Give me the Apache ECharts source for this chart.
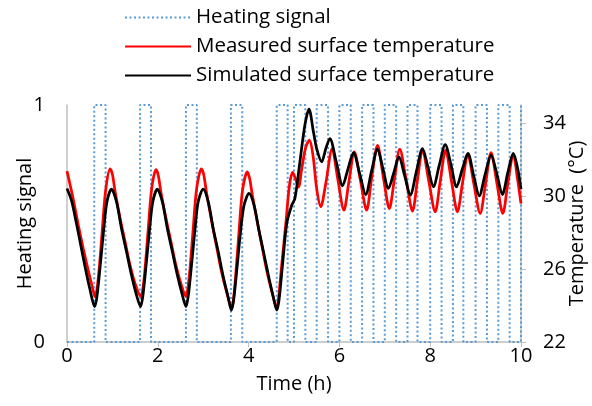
<!DOCTYPE html>
<html><head><meta charset="utf-8">
<script src="https://cdn.jsdelivr.net/npm/echarts@6/dist/echarts.min.js"></script>
<style>html,body{margin:0;padding:0;background:#fff}#c{width:592px;height:406px}</style>
</head><body><div id="c"></div>
<script>
// Time (h) tick labels
const xTicks = [0, 2, 4, 6, 8, 10];
const leftTicks = [0, 1];
const rightTicks = [22, 26, 30, 34];
const seriesNames = ['Heating signal', 'Measured surface temperature', 'Simulated surface temperature'];

// Heating signal: times (h) where the heater switches on and off
const heatOn  = [0.60, 1.61, 2.62, 3.61, 4.62, 5.00, 5.50, 6.00, 6.50, 7.00, 7.50, 8.00, 8.50, 9.00, 9.50, 10.00];
const heatOff = [0.85, 1.85, 2.86, 3.86, 4.86, 5.25, 5.75, 6.25, 6.75, 7.25, 7.72, 8.25, 8.73, 9.25, 9.75];

// Measured surface temperature [time h, °C]
const measured = [
[0.00,31.37],[0.07,30.6],[0.14,29.8],[0.25,28.4],[0.36,27.1],[0.47,25.9],[0.55,25.1],[0.62,24.48],
[0.66,24.9],[0.71,26.05],[0.78,28.23],[0.855,30.4],[0.95,31.5],[1.00,31.2],[1.06,30.24],[1.17,28.78],
[1.28,27.5],[1.39,26.2],[1.50,25.2],[1.63,24.48],[1.67,24.9],[1.72,26.05],[1.79,28.23],[1.865,30.4],
[1.96,31.45],[2.01,31.15],[2.07,30.2],[2.18,28.78],[2.29,27.5],[2.40,26.2],[2.51,25.2],[2.62,24.5],
[2.66,24.9],[2.71,26.05],[2.78,28.23],[2.855,30.4],[2.96,31.5],[3.01,31.2],[3.07,30.24],[3.18,28.7],
[3.29,27.3],[3.40,25.9],[3.51,24.8],[3.63,23.85],[3.67,24.4],[3.72,25.8],[3.79,28.1],[3.865,30.3],
[3.97,31.33],[4.02,31.0],[4.08,30.1],[4.19,28.6],[4.30,27.2],[4.41,25.8],[4.52,24.7],[4.62,23.85],
[4.66,24.4],[4.72,26.0],[4.82,28.5],[4.90,30.6],[4.97,31.3],[5.04,30.9],[5.10,30.5],[5.17,31.5],
[5.26,32.7],[5.34,33.07],[5.42,32.2],[5.50,30.4],[5.59,29.42],[5.70,30.7],[5.84,32.61],[5.96,31.0],
[6.10,29.23],[6.21,30.8],[6.33,32.43],[6.46,30.9],[6.60,29.23],[6.71,31.0],[6.84,32.79],[6.97,31.0],
[7.10,29.32],[7.21,30.9],[7.33,32.58],[7.47,30.9],[7.61,29.18],[7.72,30.9],[7.83,32.52],[7.97,30.8],
[8.11,29.14],[8.22,30.8],[8.34,32.52],[8.47,30.8],[8.60,29.14],[8.71,30.7],[8.83,32.3],[8.96,30.7],
[9.10,29.05],[9.22,30.7],[9.34,32.39],[9.47,30.7],[9.60,29.05],[9.71,30.7],[9.83,32.3],[9.92,31.0],
[10.00,29.6]
];

// Simulated surface temperature [time h, °C]
const simulated = [
[0.00,30.42],[0.10,29.75],[0.20,28.6],[0.30,27.35],[0.40,26.1],[0.50,24.95],[0.61,23.94],
[0.66,24.5],[0.74,26.4],[0.81,28.2],[0.88,29.7],[0.98,30.38],[1.09,29.7],[1.20,28.23],[1.31,26.96],
[1.42,25.68],[1.53,24.58],[1.62,23.94],[1.67,24.5],[1.75,26.4],[1.82,28.2],[1.89,29.7],[1.99,30.38],
[2.10,29.7],[2.21,28.23],[2.32,26.96],[2.43,25.68],[2.54,24.58],[2.62,23.94],[2.67,24.5],[2.75,26.4],
[2.82,28.2],[2.89,29.7],[3.00,30.38],[3.11,29.7],[3.22,28.23],[3.33,26.96],[3.44,25.6],[3.55,24.45],
[3.62,23.75],[3.67,24.3],[3.75,26.2],[3.82,28.0],[3.90,29.5],[4.01,30.15],[4.12,29.5],[4.23,28.1],
[4.34,26.8],[4.45,25.5],[4.55,24.4],[4.62,23.75],[4.67,24.3],[4.75,26.3],[4.84,28.5],[4.95,29.5],
[5.02,29.87],[5.13,31.88],[5.24,33.9],[5.33,34.77],[5.43,33.5],[5.50,32.6],[5.61,31.88],[5.70,32.6],
[5.79,33.16],[5.93,31.9],[6.07,30.57],[6.19,31.5],[6.31,32.39],[6.45,31.2],[6.58,30.09],[6.71,31.4],
[6.84,32.58],[6.96,31.5],[7.08,30.42],[7.20,31.3],[7.31,32.15],[7.44,31.1],[7.56,30.05],[7.70,31.4],
[7.83,32.61],[7.95,31.6],[8.07,30.51],[8.20,31.7],[8.33,32.83],[8.46,31.7],[8.58,30.51],[8.71,31.5],
[8.83,32.34],[8.96,31.1],[9.08,30.02],[9.21,31.2],[9.34,32.25],[9.47,31.2],[9.59,30.09],[9.71,31.3],
[9.83,32.34],[9.92,31.6],[10.00,30.38]
];

// build the square-wave points from the switching times
const heating = [[0, 0]];
for (let i = 0; i < heatOn.length; i++) {
  heating.push([heatOn[i], 0], [heatOn[i], 1]);
  if (i < heatOff.length) heating.push([heatOff[i], 1], [heatOff[i], 0]);
}

const FONT = 'Open Sans';
const axisGray = '#BFBFBF';
const chart = echarts.init(document.getElementById('c'), null, {renderer: 'canvas'});
chart.setOption({
  animation: false,
  textStyle: {fontFamily: FONT, color: '#000'},
  legend: {
    orient: 'vertical', left: 119, top: 2, itemWidth: 66, itemHeight: 14, itemGap: 8,
    itemStyle: {opacity: 0, borderWidth: 0},
    textStyle: {fontFamily: FONT, fontSize: 20.5, color: '#000', lineHeight: 20},
    data: seriesNames
  },
  grid: {left: 67, right: 71, top: 105, bottom: 64, containLabel: false, outerBoundsMode: 'none'},
  xAxis: {
    type: 'value', min: 0, max: 10, interval: 2,
    name: 'Time (h)', nameLocation: 'middle', nameGap: 32, nameMoveOverlap: false,
    nameTextStyle: {fontFamily: FONT, fontSize: 20, color: '#000'},
    axisLine: {lineStyle: {color: axisGray, width: 1.5}},
    axisTick: {show: true, length: 5, lineStyle: {color: axisGray}, customValues: xTicks},
    axisLabel: {fontFamily: FONT, fontSize: 20, color: '#000', margin: 4, customValues: xTicks},
    splitLine: {show: false}
  },
  yAxis: [{
    type: 'value', min: 0, max: 1, interval: 1, position: 'left',
    name: 'Heating signal', nameLocation: 'middle', nameGap: 32, nameRotate: 90, nameMoveOverlap: false,
    nameTextStyle: {fontFamily: FONT, fontSize: 20, color: '#000'},
    axisLine: {show: true, lineStyle: {color: axisGray, width: 1.5}},
    axisTick: {show: false},
    axisLabel: {fontFamily: FONT, fontSize: 20, color: '#000', margin: 22, customValues: leftTicks},
    splitLine: {show: false}
  }, {
    type: 'value', min: 22, max: 35, interval: 4, position: 'right',
    name: 'Temperature  (°C)', nameLocation: 'middle', nameGap: 46, nameRotate: 90, nameMoveOverlap: false,
    nameTextStyle: {fontFamily: FONT, fontSize: 20, color: '#000'},
    axisLine: {show: true, lineStyle: {color: axisGray, width: 1.5}},
    axisTick: {show: true, length: 5, lineStyle: {color: axisGray}, customValues: rightTicks},
    axisLabel: {fontFamily: FONT, fontSize: 20, color: '#000', margin: 22, customValues: rightTicks},
    splitLine: {show: false}
  }],
  series: [{
    name: seriesNames[0], type: 'line', yAxisIndex: 0, data: heating, symbol: 'none', clip: false,
    lineStyle: {color: '#5B9BD5', width: 2, type: [2, 2.5]}, itemStyle: {color: '#5B9BD5'}
  }, {
    name: seriesNames[1], type: 'line', yAxisIndex: 1, data: measured, symbol: 'none',
    smooth: 0.3,
    lineStyle: {color: '#FF0000', width: 2.75}, itemStyle: {color: '#FF0000'}
  }, {
    name: seriesNames[2], type: 'line', yAxisIndex: 1, data: simulated, symbol: 'none',
    smooth: 0.3,
    lineStyle: {color: '#000000', width: 2.75}, itemStyle: {color: '#000000'}
  }]
});
</script>
</body></html>
